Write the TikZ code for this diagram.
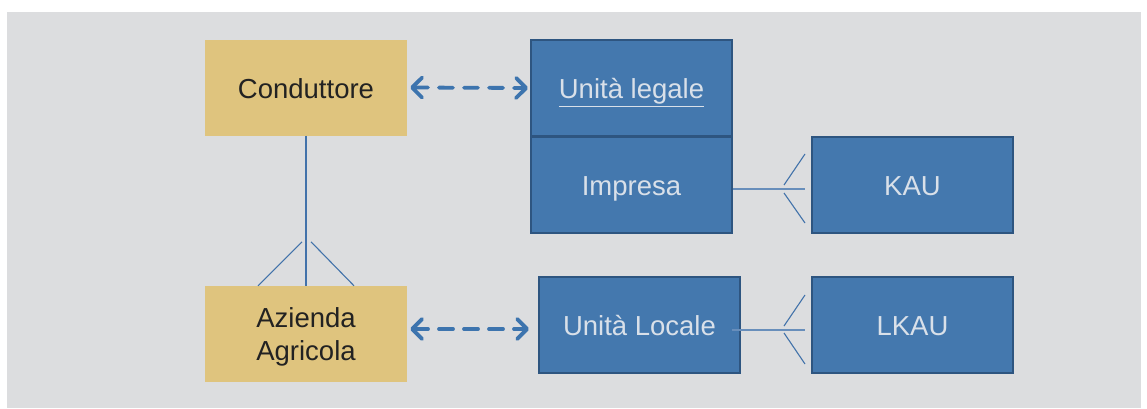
\documentclass[tikz,border=0pt]{standalone}
\usepackage{fontspec}
\setmainfont{Liberation Sans}
\usetikzlibrary{arrows.meta,calc}
\definecolor{bggray}{HTML}{DCDDDF}
\definecolor{gold}{HTML}{DFC47E}
\definecolor{boxblue}{HTML}{4478AE}
\definecolor{boxborder}{HTML}{2E5580}
\definecolor{lighttext}{HTML}{D9E0E9}
\definecolor{darktext}{HTML}{222222}
\definecolor{arrowblue}{HTML}{3D74AE}
\definecolor{linkblue}{HTML}{4272AA}
\begin{document}
\begin{tikzpicture}[x=1pt,y=-1pt,
  boxfont/.style={font=\fontsize{27.5}{33}\selectfont},
  goldbox/.style={fill=gold,draw=none,minimum width=202pt,minimum height=96pt,inner sep=0pt,text=darktext,boxfont,align=center,text height=22.5pt,text depth=0pt},
  goldplain/.style={fill=gold,draw=none,minimum width=202pt,minimum height=96pt,inner sep=0pt},
  plaintext/.style={inner sep=0pt,text=darktext,boxfont,align=center},
  bluebox/.style={fill=boxblue,draw=boxborder,line width=2pt,minimum width=201pt,minimum height=96pt,inner sep=0pt,text=lighttext,boxfont,align=center,text height=21.8pt,text depth=0pt},
  dasharrow/.style={draw=arrowblue,line width=3.8pt,dash pattern=on 14pt off 11pt,line cap=round,
     {Straight Barb[length=10pt,width=20pt,line cap=round,line join=round]}-{Straight Barb[length=10pt,width=20pt,line cap=round,line join=round]}},
  foot/.style={draw=linkblue,line width=1.1pt},
  stem/.style={draw=linkblue,line width=1.8pt}]
\useasboundingbox (0,0) rectangle (1147,408);
\fill[white] (0,0) rectangle (1147,408);
\fill[bggray] (7,12) rectangle (1141,408);

\node[goldbox] (cond) at (306,87.5) {Conduttore};
\node[goldplain] (az) at (306,334) {};
\node[plaintext] (aztext) at ($(az.center)+(0,3)$) {Azienda\\Agricola};
\node[bluebox] (leg) at (631.5,88) {\underline{Unità legale}};
\node[bluebox] (imp) at (631.5,185) {Impresa};
\node[bluebox] (kau) at (912.5,184.5) {KAU};
\node[bluebox] (loc) at (639.5,325) {Unità Locale};
\node[bluebox] (lkau) at (912.5,325) {LKAU};

% dashed arrows
\draw[dasharrow] ([xshift=3pt]cond.east) -- ([xshift=-2pt]leg.west);
\coordinate (a2) at ($(az.east)+(3,-5)$);
\coordinate (b2) at ($(a2 -| loc.west)+(-9,0)$);
\draw[dasharrow] (a2) -- (b2);

% Conduttore - Azienda (one to many)
\draw[stem] (cond.south) -- (az.north);
\draw[foot] ($(az.north)+(-4,-44)$) -- ($(az.north)+(-48,0)$);
\draw[foot] ($(az.north)+(5,-44)$) -- ($(az.north)+(48,0)$);

% Impresa - KAU
\coordinate (kf) at ($(kau.west)+(-6,4.5)$);
\draw[foot,draw=linkblue!80!white] (imp.east |- kf) -- (kf);
\draw[foot] ($(kau.west)+(-27,0.5)$) -- ($(kau.west)+(-6,-30.5)$);
\draw[foot] ($(kau.west)+(-27,8.5)$) -- ($(kau.west)+(-6,38.5)$);

% Unita Locale - LKAU
\coordinate (lf) at ($(lkau.west)+(-6,5)$);
\draw[foot,draw=linkblue!80!white] ($(loc.east |- lf)+(-9,0)$) -- (lf);
\draw[foot] ($(lkau.west)+(-27,1)$) -- ($(lkau.west)+(-6,-30)$);
\draw[foot] ($(lkau.west)+(-27,8)$) -- ($(lkau.west)+(-6,39)$);
\end{tikzpicture}
\end{document}
